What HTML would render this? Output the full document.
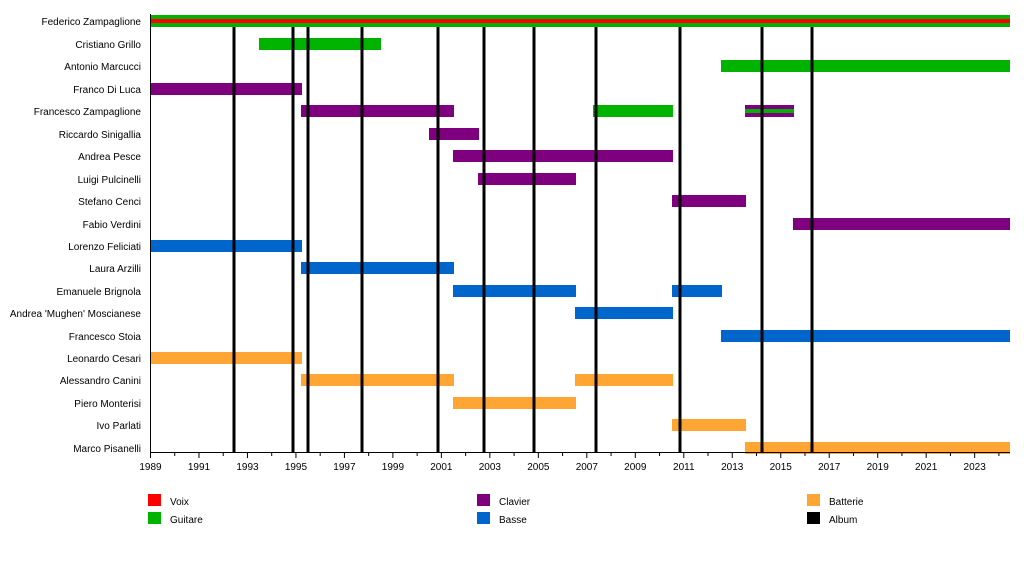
<!DOCTYPE html>
<html><head><meta charset="utf-8"><style>
html,body{margin:0;padding:0;background:#fff;}
svg text{font-family:"Liberation Sans",Arial,sans-serif;font-size:10px;fill:#000;}
</style></head><body>
<svg width="1024" height="572" xmlns="http://www.w3.org/2000/svg">
<g text-anchor="end">
<text x="141" y="25">Federico Zampaglione</text>
<text x="141" y="48">Cristiano Grillo</text>
<text x="141" y="70">Antonio Marcucci</text>
<text x="141" y="93">Franco Di Luca</text>
<text x="141" y="115">Francesco Zampaglione</text>
<text x="141" y="138">Riccardo Sinigallia</text>
<text x="141" y="160">Andrea Pesce</text>
<text x="141" y="183">Luigi Pulcinelli</text>
<text x="141" y="205">Stefano Cenci</text>
<text x="141" y="228">Fabio Verdini</text>
<text x="141" y="250">Lorenzo Feliciati</text>
<text x="141" y="272">Laura Arzilli</text>
<text x="141" y="295">Emanuele Brignola</text>
<text x="141" y="317">Andrea 'Mughen' Moscianese</text>
<text x="141" y="340">Francesco Stoia</text>
<text x="141" y="362">Leonardo Cesari</text>
<text x="141" y="384">Alessandro Canini</text>
<text x="141" y="407">Piero Monterisi</text>
<text x="141" y="429">Ivo Parlati</text>
<text x="141" y="452">Marco Pisanelli</text>
</g>
<g>
<rect x="150" y="15" width="860" height="12" fill="#00b300"/>
<rect x="150" y="19" width="860" height="4" fill="#ff0000"/>
<rect x="259" y="38" width="122" height="12" fill="#00b300"/>
<rect x="721" y="60" width="289" height="12" fill="#00b300"/>
<rect x="150" y="83" width="152" height="12" fill="#7f007f"/>
<rect x="301" y="105" width="153" height="12" fill="#7f007f"/>
<rect x="593" y="105" width="80" height="12" fill="#00b300"/>
<rect x="745" y="105" width="49" height="12" fill="#7f007f"/>
<rect x="745" y="109" width="49" height="4" fill="#00b300"/>
<rect x="429" y="128" width="50" height="12" fill="#7f007f"/>
<rect x="453" y="150" width="220" height="12" fill="#7f007f"/>
<rect x="478" y="173" width="98" height="12" fill="#7f007f"/>
<rect x="672" y="195" width="74" height="12" fill="#7f007f"/>
<rect x="793" y="218" width="217" height="12" fill="#7f007f"/>
<rect x="150" y="240" width="152" height="12" fill="#0066cc"/>
<rect x="301" y="262" width="153" height="12" fill="#0066cc"/>
<rect x="453" y="285" width="123" height="12" fill="#0066cc"/>
<rect x="672" y="285" width="50" height="12" fill="#0066cc"/>
<rect x="575" y="307" width="98" height="12" fill="#0066cc"/>
<rect x="721" y="330" width="289" height="12" fill="#0066cc"/>
<rect x="150" y="352" width="152" height="12" fill="#ffa533"/>
<rect x="301" y="374" width="153" height="12" fill="#ffa533"/>
<rect x="575" y="374" width="98" height="12" fill="#ffa533"/>
<rect x="453" y="397" width="123" height="12" fill="#ffa533"/>
<rect x="672" y="419" width="74" height="12" fill="#ffa533"/>
<rect x="745" y="442" width="265" height="12" fill="#ffa533"/>
</g>
<g stroke="#000" stroke-width="3">
<line x1="234" y1="27" x2="234" y2="452"/>
<line x1="293" y1="27" x2="293" y2="452"/>
<line x1="308" y1="27" x2="308" y2="452"/>
<line x1="362" y1="27" x2="362" y2="452"/>
<line x1="438" y1="27" x2="438" y2="452"/>
<line x1="484" y1="27" x2="484" y2="452"/>
<line x1="534" y1="27" x2="534" y2="452"/>
<line x1="596" y1="27" x2="596" y2="452"/>
<line x1="680" y1="27" x2="680" y2="452"/>
<line x1="762" y1="27" x2="762" y2="452"/>
<line x1="812" y1="27" x2="812" y2="452"/>
</g>
<line x1="150.5" y1="14" x2="150.5" y2="453" stroke="#000" stroke-width="1"/>
<line x1="150" y1="452.5" x2="1010" y2="452.5" stroke="#000" stroke-width="1"/>
<g stroke="#000" stroke-width="1" id="ticks"></g>
<g text-anchor="middle" id="labels"></g>
<rect x="148" y="494" width="13" height="12" fill="#ff0000"/>
<rect x="148" y="512" width="13" height="12" fill="#00b300"/>
<rect x="477" y="494" width="13" height="12" fill="#7f007f"/>
<rect x="477" y="512" width="13" height="12" fill="#0066cc"/>
<rect x="807" y="494" width="13" height="12" fill="#ffa533"/>
<rect x="807" y="512" width="13" height="12" fill="#000"/>
<text x="170" y="505">Voix</text>
<text x="170" y="523">Guitare</text>
<text x="499" y="505">Clavier</text>
<text x="499" y="523">Basse</text>
<text x="829" y="505">Batterie</text>
<text x="829" y="523">Album</text>
</svg>
<script>
var t=document.getElementById('ticks'),l=document.getElementById('labels'),ns="http://www.w3.org/2000/svg";
for(var y=1989;y<=2024;y++){var x=150.5+(y-1989)*24.24;var ln=document.createElementNS(ns,'line');ln.setAttribute('x1',x);ln.setAttribute('x2',x);ln.setAttribute('y1',453);ln.setAttribute('y2',(y%2)?458:456);t.appendChild(ln);
if(y%2){var tx=document.createElementNS(ns,'text');tx.setAttribute('x',x);tx.setAttribute('y',470);tx.textContent=y;l.appendChild(tx);}}
</script>
</body></html>
